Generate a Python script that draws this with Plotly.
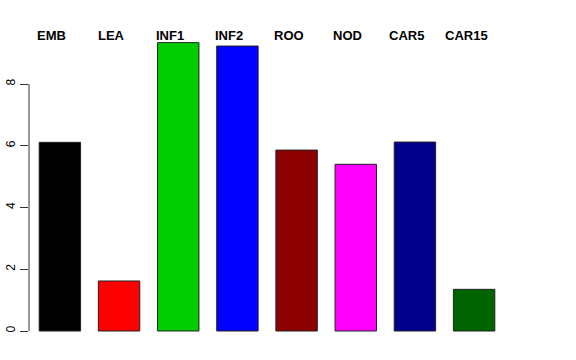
import plotly.graph_objects as go

categories = ["EMB", "LEA", "INF1", "INF2", "ROO", "NOD", "CAR5", "CAR15"]
values = [6.11, 1.62, 9.34, 9.23, 5.86, 5.40, 6.12, 1.35]
colors = ["#000000", "#FF0000", "#00CD00", "#0000FF", "#8B0000", "#FF00FF", "#00008B", "#006400"]
y_ticks = [0, 2, 4, 6, 8]

positions = list(range(len(categories)))

fig = go.Figure()
fig.add_trace(go.Bar(
    x=positions,
    y=values,
    width=0.70,
    marker=dict(color=colors, line=dict(color="#222222", width=1)),
    showlegend=False,
    hoverinfo="skip",
))

for i, name in enumerate(categories):
    fig.add_annotation(
        x=positions[i], xref="x", xshift=-8,
        y=0.987, yref="paper",
        text="<b>" + name + "</b>",
        showarrow=False,
        xanchor="center", yanchor="middle",
        font=dict(family="Liberation Sans, Arial, sans-serif", size=13, color="black"),
    )

# y axis line spanning only the tick range (R style)
fig.add_shape(
    type="line", xref="paper", yref="y",
    x0=0, x1=0, y0=min(y_ticks), y1=max(y_ticks),
    line=dict(color="#333333", width=1),
)

fig.update_layout(
    width=576, height=360,
    margin=dict(l=29, r=71, t=31, b=18, autoexpand=False),
    plot_bgcolor="white", paper_bgcolor="white",
    font=dict(family="Liberation Sans, Arial, sans-serif", size=12, color="black"),
    xaxis=dict(
        range=[-0.522, 7.522],
        showgrid=False, zeroline=False, showline=False,
        showticklabels=False, ticks="", automargin=False,
    ),
    yaxis=dict(
        range=[-0.356, 9.717],
        tickvals=y_ticks,
        ticktext=[str(v) for v in y_ticks],
        tickangle=-90,
        ticks="outside", ticklen=8, tickwidth=1, tickcolor="#333333",
        ticklabelstandoff=0,
        showgrid=False, zeroline=False, showline=False,
        tickfont=dict(size=12, color="black"),
        automargin=False,
    ),
)

fig.write_html(
    "out.html",
    config={"displayModeBar": False},
    post_script="document.body.style.margin='0';document.body.style.overflow='hidden';",
)
